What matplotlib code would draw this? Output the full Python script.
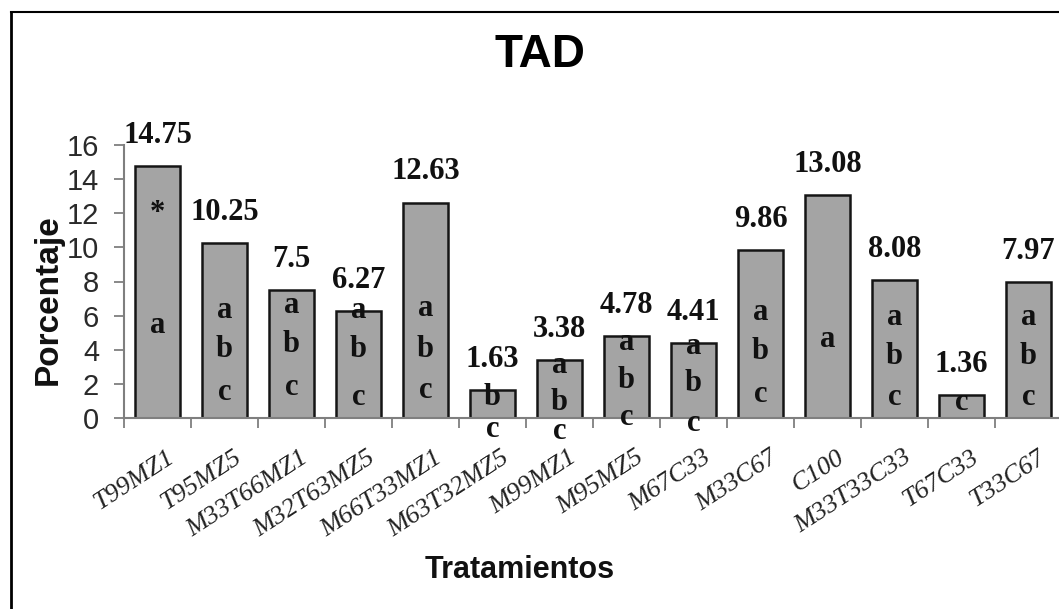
import matplotlib
matplotlib.use("Agg")
import matplotlib.pyplot as plt
from matplotlib.lines import Line2D
from matplotlib.transforms import ScaledTranslation

# ============= data =============
treatments = ["T99MZ1", "T95MZ5", "M33T66MZ1", "M32T63MZ5", "M66T33MZ1", "M63T32MZ5",
              "M99MZ1", "M95MZ5", "M67C33", "M33C67", "C100", "M33T33C33", "T67C33", "T33C67"]
values = [14.75, 10.25, 7.5, 6.27, 12.63, 1.63, 3.38, 4.78, 4.41, 9.86, 13.08, 8.08, 1.36, 7.97]

# significance letters of each bar and the height where each one sits
letters = ["*a", "abc", "abc", "abc", "abc", "bc", "abc", "abc", "abc", "abc", "a", "abc", "c", "abc"]
letter_y = [[12.0, 5.45], [6.3, 4.0, 1.5], [6.6, 4.3, 1.8], [6.3, 4.0, 1.2], [6.4, 4.0, 1.6],
            [1.2, -0.7], [3.1, 0.9, -0.8], [4.45, 2.2, 0.05], [4.2, 2.05, -0.3], [6.2, 3.9, 1.35],
            [4.6], [5.9, 3.6, 1.2], [0.9], [5.9, 3.6, 1.2]]

# ============= plotting =============
W, H = 1059, 609
fig = plt.figure(figsize=(W / 100, H / 100), dpi=100)
fig.patch.set_facecolor("white")

# axes run past the right edge, like the clipped original
ax = fig.add_axes([124 / W, (H - 418) / H, 938 / W, 273 / H])

x = [i + 0.5 for i in range(len(values))]
ax.bar(x, values, width=0.68, color="#a4a4a4", edgecolor="#151515", linewidth=1.8, zorder=2)

serif_bold = dict(family=["Liberation Serif", "DejaVu Serif"], weight="bold")

# value labels above the bars
for xi, v in zip(x, values):
    ax.annotate(f"{v:g}", (xi, v), xytext=(0, 22), textcoords="offset points",
                ha="center", va="center", fontsize=22, color="#111111", **serif_bold)

# letters inside the bars
for xi, lets, ys in zip(x, letters, letter_y):
    for ch, yy in zip(lets, ys):
        ax.text(xi, yy, ch, ha="center", va="center", fontsize=22, color="#111111",
                zorder=3, **serif_bold)

ax.set_xlim(0, 14)
ax.set_ylim(0, 16)

for s in ["top", "right"]:
    ax.spines[s].set_visible(False)
for s in ["left", "bottom"]:
    ax.spines[s].set_color("#7f7f7f")
    ax.spines[s].set_linewidth(1.5)

ax.set_yticks(range(0, 17, 2))
ax.tick_params(axis="y", direction="out", length=7, width=1.3, color="#7f7f7f",
               pad=11, labelsize=21, labelcolor="#2a2a2a")
for lab in ax.get_yticklabels():
    lab.set_family(["Liberation Sans", "DejaVu Sans"])

# boundary ticks on x, labels at bar centres
ax.set_xticks(range(0, 15), minor=True)
ax.tick_params(axis="x", which="minor", direction="out", length=7, width=1.3, color="#7f7f7f")
ax.set_xticks(x)
ax.set_xticklabels(treatments)
ax.tick_params(axis="x", which="major", length=0, pad=27, labelcolor="#222222")
offset = ScaledTranslation(0.15, 0, fig.dpi_scale_trans)
for lab in ax.get_xticklabels():
    lab.set_rotation(33)
    lab.set_ha("right")
    lab.set_va("center")
    lab.set_rotation_mode("anchor")
    lab.set_fontsize(19)
    lab.set_family(["Liberation Serif", "DejaVu Serif"])
    lab.set_style("italic")
    lab.set_transform(lab.get_transform() + offset)

fig.text(540 / W, 1 - 55 / H, "TAD", ha="center", va="center", fontsize=33,
         family=["Liberation Sans", "DejaVu Sans"], weight="bold")
fig.text(520 / W, 1 - 570 / H, "Tratamientos", ha="center", va="center", fontsize=22,
         color="#111111", family=["Liberation Sans", "DejaVu Sans"], weight="bold")
fig.text(48 / W, 1 - 300 / H, "Porcentaje", ha="center", va="center", rotation=90,
         fontsize=24, color="#111111", family=["Liberation Sans", "DejaVu Sans"], weight="bold")

# frame lines of the original picture
fig.add_artist(Line2D([10.5 / W, 10.5 / W], [0, 1 - 12 / H], transform=fig.transFigure,
                      color="black", lw=2))
fig.add_artist(Line2D([10.5 / W, 1], [1 - 12 / H, 1 - 12 / H], transform=fig.transFigure,
                      color="black", lw=1.5))

fig.savefig("out.png", dpi=100)
